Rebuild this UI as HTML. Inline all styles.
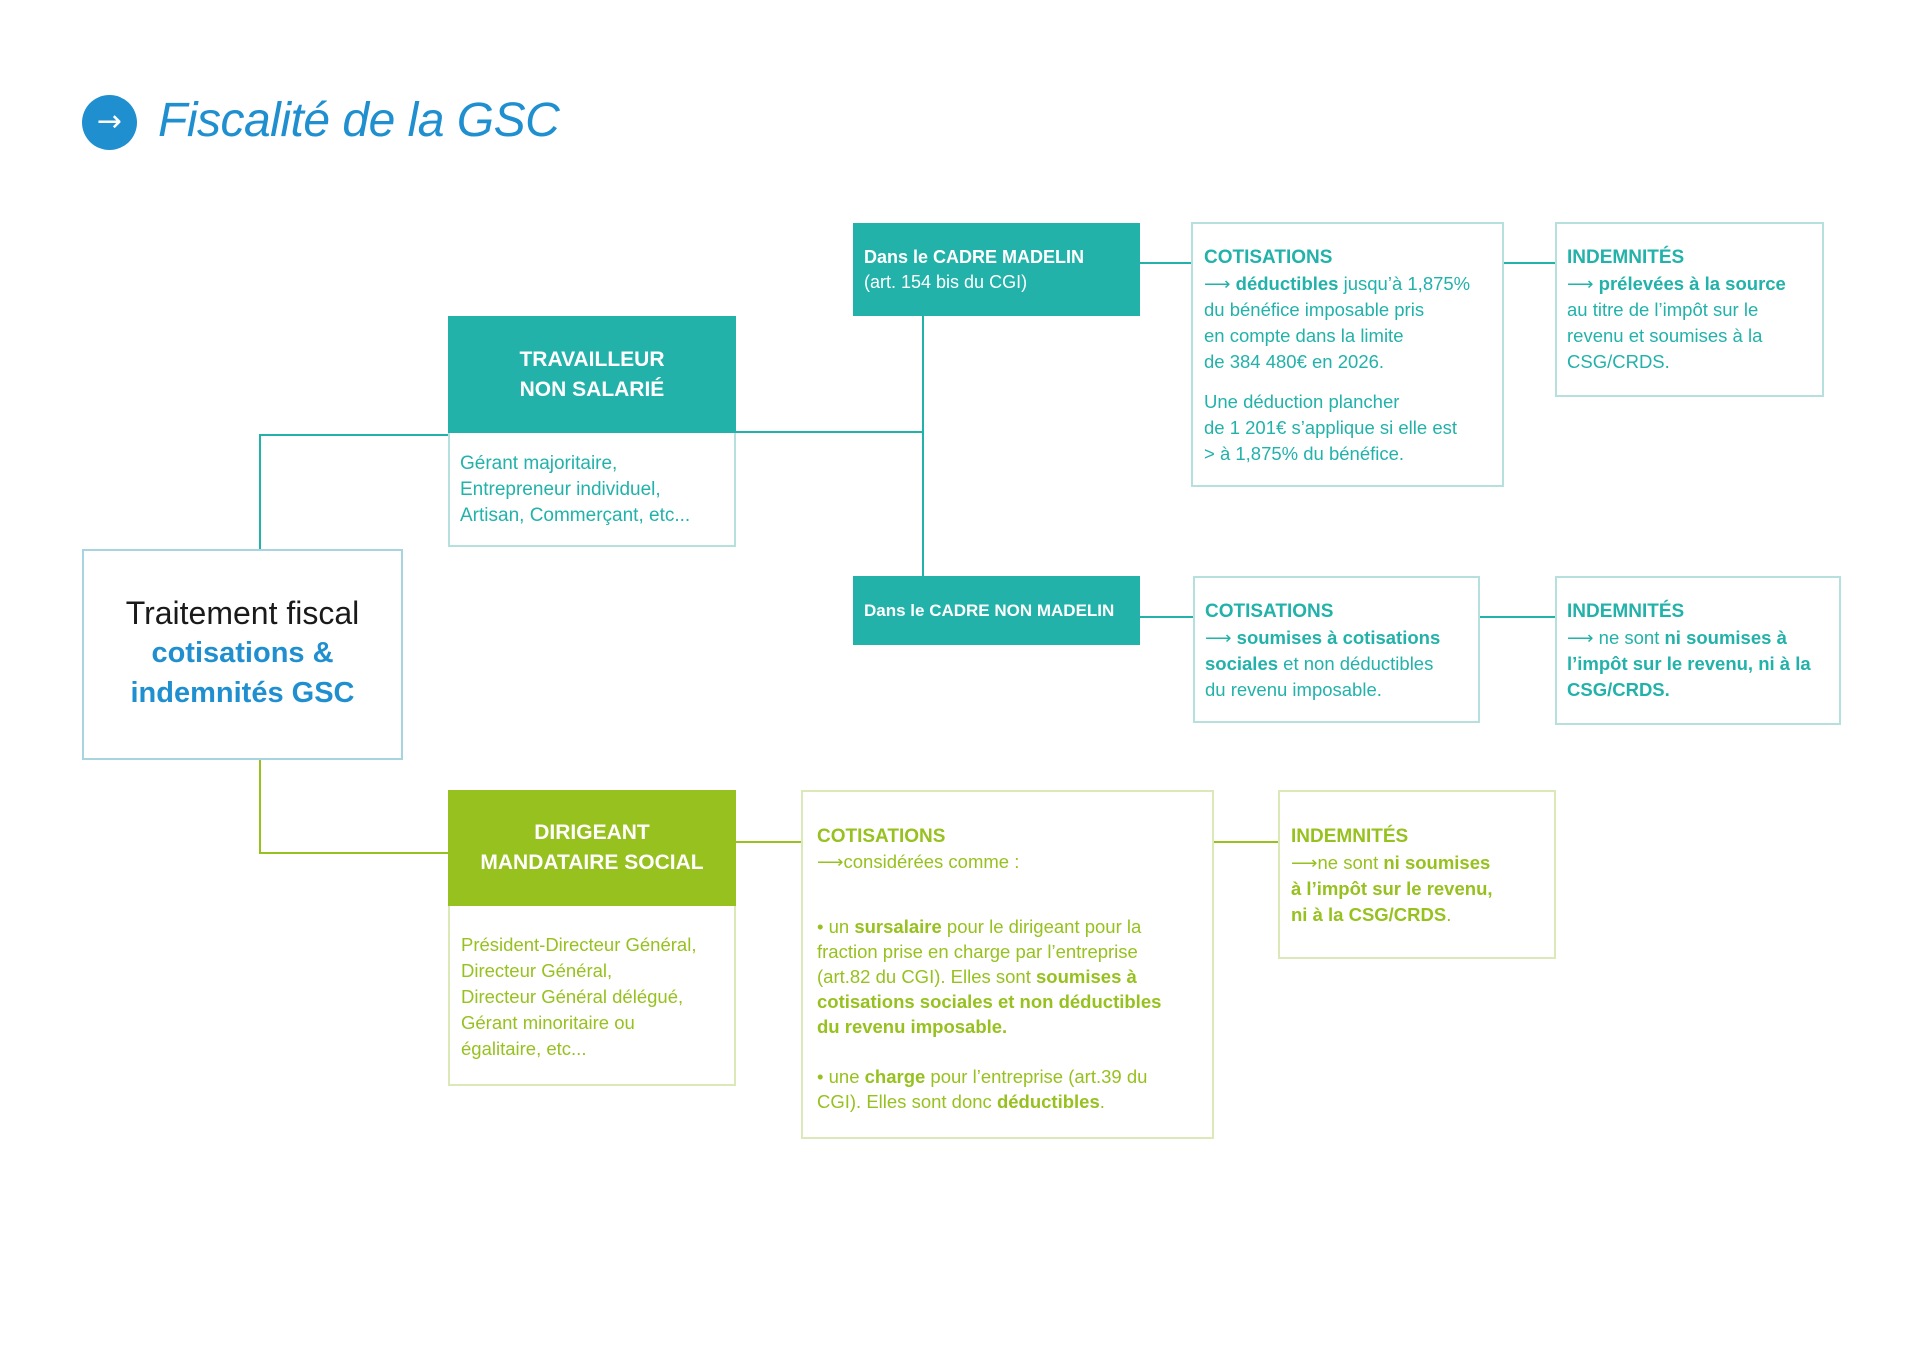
<!DOCTYPE html>
<html><head><meta charset="utf-8"><style>
*{margin:0;padding:0;box-sizing:border-box}
body{width:1920px;height:1358px;background:#fff;position:relative;overflow:hidden;font-family:"Liberation Sans",sans-serif;}
.a{position:absolute}
.ln{position:absolute;background:#22b2aa}
.lg{position:absolute;background:#97c11f}
.tb{position:absolute;border:2px solid #b5e0dd;background:#fff}
.gb{position:absolute;border:2px solid #dbe9b8;background:#fff}
.hd{position:absolute;color:#fff;font-weight:bold;display:flex;align-items:center;white-space:nowrap}
.t{color:#22b2aa;font-size:19px;line-height:26px;white-space:nowrap}
.g{color:#97c11f;font-size:19px;line-height:25px;white-space:nowrap}
b{font-weight:bold}
.h{font-weight:bold;font-size:19px}
</style></head><body>
<div class="a" style="left:82px;top:95px;width:55px;height:55px;border-radius:50%;background:#1f8fd0;color:#fff;font-size:30px;line-height:53px;text-align:center;font-family:'DejaVu Sans',sans-serif">→</div>
<div class="a" style="left:158px;top:90px;font-style:italic;font-size:48px;color:#1f8fd0;line-height:62px;letter-spacing:-0.5px">Fiscalité de la GSC</div>

<div class="ln" style="left:259px;top:434px;width:2px;height:116px"></div>
<div class="ln" style="left:259px;top:434px;width:190px;height:2px"></div>
<div class="ln" style="left:735px;top:431px;width:189px;height:2px"></div>
<div class="ln" style="left:922px;top:316px;width:2px;height:261px"></div>
<div class="ln" style="left:1140px;top:262px;width:52px;height:2px"></div>
<div class="ln" style="left:1504px;top:262px;width:52px;height:2px"></div>
<div class="ln" style="left:1140px;top:616px;width:54px;height:2px"></div>
<div class="ln" style="left:1480px;top:616px;width:76px;height:2px"></div>
<div class="lg" style="left:259px;top:760px;width:2px;height:94px"></div>
<div class="lg" style="left:259px;top:852px;width:190px;height:2px"></div>
<div class="lg" style="left:735px;top:841px;width:67px;height:2px"></div>
<div class="lg" style="left:1214px;top:841px;width:65px;height:2px"></div>

<div class="a" style="left:82px;top:549px;width:321px;height:211px;border:2px solid #a8d4df;text-align:center;padding-top:42px">
<div style="font-size:32px;color:#1a1a1a;line-height:40px">Traitement fiscal</div>
<div style="font-weight:bold;font-size:29px;color:#1f8fd0;line-height:40px">cotisations &amp;<br>indemnités GSC</div>
</div>

<div class="tb" style="left:448px;top:316px;width:288px;height:231px"></div>
<div class="hd" style="left:448px;top:316px;width:288px;height:117px;background:#22b2aa;justify-content:center;text-align:center;font-size:21px;line-height:30px">TRAVAILLEUR<br>NON SALARIÉ</div>
<div class="a t" style="left:460px;top:451px">Gérant majoritaire,<br>Entrepreneur individuel,<br>Artisan, Commerçant, etc...</div>

<div class="hd" style="left:853px;top:223px;width:287px;height:93px;background:#22b2aa;padding-left:11px;font-size:18px;line-height:25px"><div>Dans le CADRE MADELIN<br><span style="font-weight:normal">(art. 154 bis du CGI)</span></div></div>
<div class="hd" style="left:853px;top:576px;width:287px;height:69px;background:#22b2aa;padding-left:11px;font-size:17px">Dans le CADRE NON MADELIN</div>

<div class="tb" style="left:1191px;top:222px;width:313px;height:265px"></div>
<div class="a t" style="left:1204px;top:244px;font-size:18.5px"><span class="h">COTISATIONS</span><br>⟶ <b>déductibles</b> jusqu’à 1,875%<br>du bénéfice imposable pris<br>en compte dans la limite<br>de 384 480€ en 2026.<div style="height:14px"></div>Une déduction plancher<br>de 1 201€ s’applique si elle est<br>&gt; à 1,875% du bénéfice.</div>

<div class="tb" style="left:1555px;top:222px;width:269px;height:175px"></div>
<div class="a t" style="left:1567px;top:244px;font-size:18.5px"><span class="h">INDEMNITÉS</span><br>⟶ <b>prélevées à la source</b><br>au titre de l’impôt sur le<br>revenu et soumises à la<br>CSG/CRDS.</div>

<div class="tb" style="left:1193px;top:576px;width:287px;height:147px"></div>
<div class="a t" style="left:1205px;top:598px;font-size:18.5px"><span class="h">COTISATIONS</span><br>⟶ <b>soumises à cotisations<br>sociales</b> et non déductibles<br>du revenu imposable.</div>

<div class="tb" style="left:1555px;top:576px;width:286px;height:149px"></div>
<div class="a t" style="left:1567px;top:598px;font-size:18.5px"><span class="h">INDEMNITÉS</span><br>⟶ ne sont <b>ni soumises à<br>l’impôt sur le revenu, ni à la<br>CSG/CRDS.</b></div>

<div class="gb" style="left:448px;top:790px;width:288px;height:296px"></div>
<div class="hd" style="left:448px;top:790px;width:288px;height:116px;background:#97c11f;justify-content:center;text-align:center;font-size:21px;line-height:30px">DIRIGEANT<br>MANDATAIRE SOCIAL</div>
<div class="a g" style="left:461px;top:932px;line-height:26px;font-size:18.5px">Président-Directeur Général,<br>Directeur Général,<br>Directeur Général délégué,<br>Gérant minoritaire ou<br>égalitaire, etc...</div>

<div class="gb" style="left:801px;top:790px;width:413px;height:349px"></div>
<div class="a g" style="left:817px;top:823px;font-size:18.5px"><span class="h">COTISATIONS</span><br>⟶considérées comme :<div style="height:40px"></div>• un <b>sursalaire</b> pour le dirigeant pour la<br>fraction prise en charge par l’entreprise<br>(art.82 du CGI). Elles sont <b>soumises à<br>cotisations sociales et non déductibles<br>du revenu imposable.</b><div style="height:25px"></div>• une <b>charge</b> pour l’entreprise (art.39 du<br>CGI). Elles sont donc <b>déductibles</b>.</div>

<div class="gb" style="left:1278px;top:790px;width:278px;height:169px"></div>
<div class="a g" style="left:1291px;top:823px;line-height:26px;font-size:18.5px"><span class="h">INDEMNITÉS</span><br>⟶ne sont <b>ni soumises<br>à l’impôt sur le revenu,<br>ni à la CSG/CRDS</b>.</div>
</body></html>
